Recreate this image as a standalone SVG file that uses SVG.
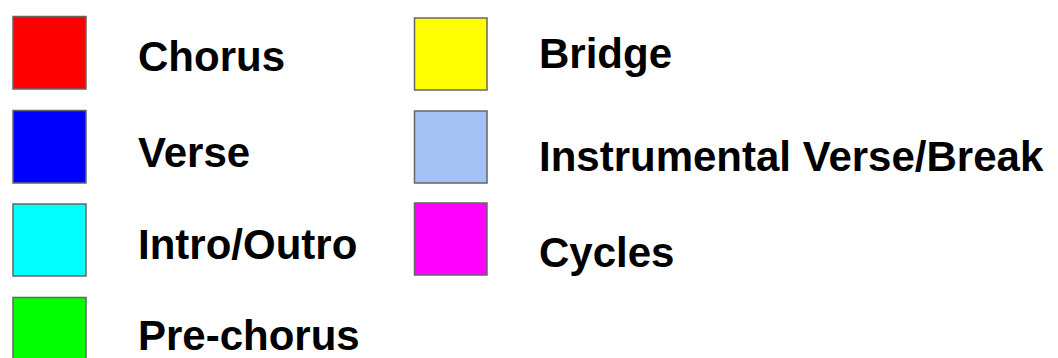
<svg xmlns="http://www.w3.org/2000/svg" width="1058" height="358" viewBox="0 0 1058 358">
  <style>
    .sw { stroke: #666666; stroke-width: 1.5; }
    .lbl { font-family: "Liberation Sans", Arial, sans-serif; font-weight: bold; font-size: 42px; fill: #000000; }
  </style>
  <rect width="1058" height="358" fill="#ffffff"/>
  <g id="chorus">
    <rect class="sw" x="13" y="16.5" width="73" height="72.5" fill="#ff0000"/>
    <text class="lbl" x="138" y="71">Chorus</text>
  </g>
  <g id="verse">
    <rect class="sw" x="13" y="110.5" width="73" height="72.5" fill="#0000ff"/>
    <text class="lbl" x="138" y="167">Verse</text>
  </g>
  <g id="intro-outro">
    <rect class="sw" x="13" y="204" width="73" height="72" fill="#00ffff"/>
    <text class="lbl" x="138" y="259">Intro/Outro</text>
  </g>
  <g id="pre-chorus">
    <rect class="sw" x="13" y="297.5" width="73" height="72.5" fill="#00ff00"/>
    <text class="lbl" x="138" y="350">Pre-chorus</text>
  </g>
  <g id="bridge">
    <rect class="sw" x="414.5" y="18" width="72.5" height="72" fill="#ffff00"/>
    <text class="lbl" x="539" y="68">Bridge</text>
  </g>
  <g id="instrumental">
    <rect class="sw" x="414.5" y="111" width="72.5" height="72" fill="#a4c2f4"/>
    <text class="lbl" x="539" y="171">Instrumental Verse/Break</text>
  </g>
  <g id="cycles">
    <rect class="sw" x="414.5" y="203" width="72.5" height="72" fill="#ff00ff"/>
    <text class="lbl" x="539" y="267">Cycles</text>
  </g>
  <g id="connectors"/>
</svg>
